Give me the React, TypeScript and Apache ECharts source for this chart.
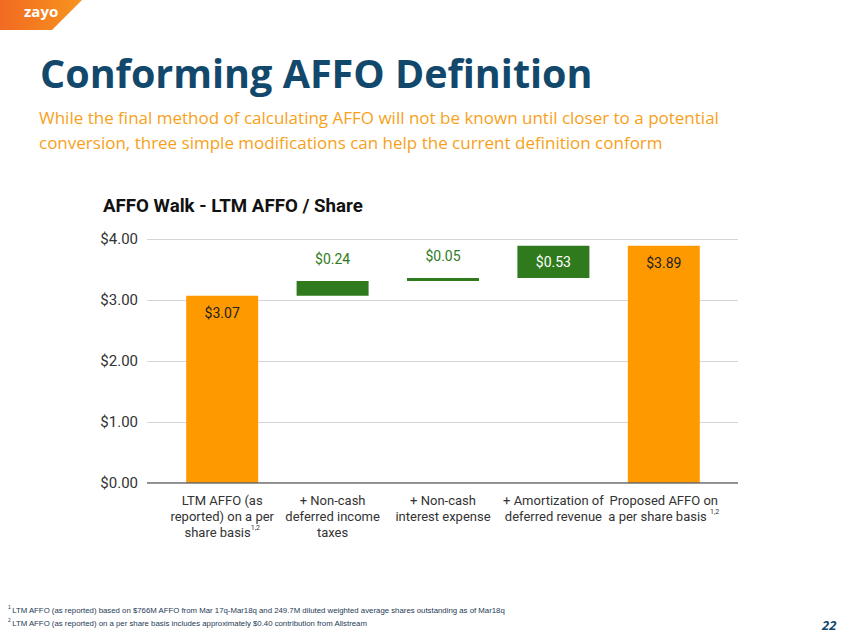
import React, { useEffect, useRef } from "react";
import * as echarts from "echarts";

const categories = [
  "LTM AFFO (as\nreported) on a per\nshare basis{sup|1,2}",
  "+ Non-cash\ndeferred income\ntaxes",
  "+ Non-cash\ninterest expense",
  "+ Amortization of\ndeferred revenue",
  "Proposed AFFO on\na per share basis {sup|1,2}",
];
const baseValues = [0, 3.07, 3.31, 3.36, 0];
const stepValues = [3.07, 0.24, 0.05, 0.53, 3.89];
const isTotal = [true, false, false, false, true];
const yTicks = [0, 1, 2, 3, 4];

const ORANGE = "#ff9900";
const GREEN = "#2f7a1d";
const NAVY = "#12486b";

export default function App() {
  const ref = useRef<HTMLDivElement>(null);
  useEffect(() => {
    document.body.style.margin = "0";
    const chart = echarts.init(ref.current!, null, { renderer: "svg" });
    const labelFor = (i: number) => {
      if (isTotal[i]) {
        return { show: true, position: "insideTop", distance: 10, color: "#222", fontSize: 14, fontFamily: "Roboto" };
      }
      if (i === 3) {
        return { show: true, position: "inside", color: "#ffffff", fontSize: 14, fontFamily: "Roboto" };
      }
      return { show: true, position: "top", distance: 15, color: GREEN, fontSize: 14, fontFamily: "Roboto" };
    };
    chart.setOption({
      animation: false,
      backgroundColor: "#ffffff",
      grid: [
        { left: 147, right: 847 - 738, top: 239, bottom: 635 - 483 },
        { left: 167, right: 847 - 719, top: 239, bottom: 635 - 483 },
      ],
      xAxis: [
        { type: "value", gridIndex: 0, show: false, min: 0, max: 1 },
        {
          type: "category",
          gridIndex: 1,
          data: categories,
          axisLine: { show: false },
          axisTick: { show: false },
          axisLabel: {
            interval: 0,
            margin: 9,
            color: "#333",
            fontSize: 13,
            fontFamily: "Roboto",
            lineHeight: 16,
            rich: {
              sup: { fontSize: 7, verticalAlign: "top", lineHeight: 16, color: "#333", fontFamily: "Roboto" },
            },
          },
        },
      ],
      yAxis: [
        {
          type: "value",
          gridIndex: 0,
          min: yTicks[0],
          max: yTicks[yTicks.length - 1],
          interval: 1,
          axisLine: { show: false },
          axisTick: { show: false },
          splitLine: { show: true, lineStyle: { color: "#d6d6d6", width: 1.2 } },
          axisLabel: {
            margin: 9,
            color: "#333",
            fontSize: 15,
            fontFamily: "Roboto",
            formatter: (v: number) => "$" + v.toFixed(2),
          },
        },
        {
          type: "value",
          gridIndex: 1,
          min: yTicks[0],
          max: yTicks[yTicks.length - 1],
          interval: 1,
          show: false,
        },
      ],
      series: [
        {
          type: "line",
          xAxisIndex: 0,
          yAxisIndex: 0,
          data: [[0, 0], [1, 0]],
          symbol: "none",
          lineStyle: { color: "#666", width: 1.5 },
          silent: true,
        },
        {
          type: "bar",
          xAxisIndex: 1,
          yAxisIndex: 1,
          stack: "w",
          barWidth: 72,
          itemStyle: { color: "transparent" },
          data: baseValues,
          silent: true,
        },
        {
          type: "bar",
          xAxisIndex: 1,
          yAxisIndex: 1,
          stack: "w",
          barWidth: 72,
          data: stepValues.map((v, i) => ({
            value: v,
            itemStyle: { color: isTotal[i] ? ORANGE : GREEN },
            label: { ...labelFor(i), formatter: "$" + v.toFixed(2) },
          })),
        },
      ],
      graphic: [
        {
          type: "polygon",
          shape: { points: [[0, 0], [82, 0], [52, 30], [0, 30]] },
          style: {
            fill: new echarts.graphic.LinearGradient(0, 0, 1, 0, [
              { offset: 0, color: "#f26a22" },
              { offset: 1, color: "#f7941e" },
            ]),
          },
        },
        {
          type: "text",
          x: 24,
          y: 3,
          style: { text: "zayo", fill: "#ffffff", font: "bold 15px 'Open Sans', sans-serif" },
        },
        {
          type: "text",
          x: 40,
          y: 53,
          style: { text: "Conforming AFFO Definition", fill: NAVY, font: "bold 39.5px 'Open Sans', sans-serif" },
        },
        {
          type: "text",
          x: 39,
          y: 105,
          style: {
            text: "While the final method of calculating AFFO will not be known until closer to a potential\nconversion, three simple modifications can help the current definition conform",
            fill: "#f7a11a",
            font: "17px 'Open Sans', sans-serif",
            lineHeight: 25,
          },
        },
        {
          type: "text",
          x: 103,
          y: 196,
          style: { text: "AFFO Walk - LTM AFFO / Share", fill: "#111", font: "bold 18.7px Roboto, sans-serif" },
        },
        {
          type: "text",
          x: 8,
          y: 604,
          style: {
            text: "{s|1 }LTM AFFO (as reported) based on $766M AFFO from Mar 17q-Mar18q and 249.7M diluted weighted average shares outstanding as of Mar18q\n{s|2 }LTM AFFO (as reported) on a per share basis includes approximately $0.40 contribution from Allstream",
            fill: "#1e3a55",
            font: "7.8px 'Liberation Sans Narrow', 'Liberation Sans', sans-serif",
            lineHeight: 13,
            rich: {
              s: { fontSize: 5, verticalAlign: "top", lineHeight: 13, fill: "#1e3a55" },
            },
          },
        },
        {
          type: "text",
          x: 822,
          y: 618,
          style: { text: "22", fill: NAVY, font: "italic bold 13px 'Open Sans', sans-serif" },
        },
      ],
    });
    return () => chart.dispose();
  }, []);
  return <div ref={ref} style={{ position: "absolute", left: 0, top: 0, width: 847, height: 635 }} />;
}
